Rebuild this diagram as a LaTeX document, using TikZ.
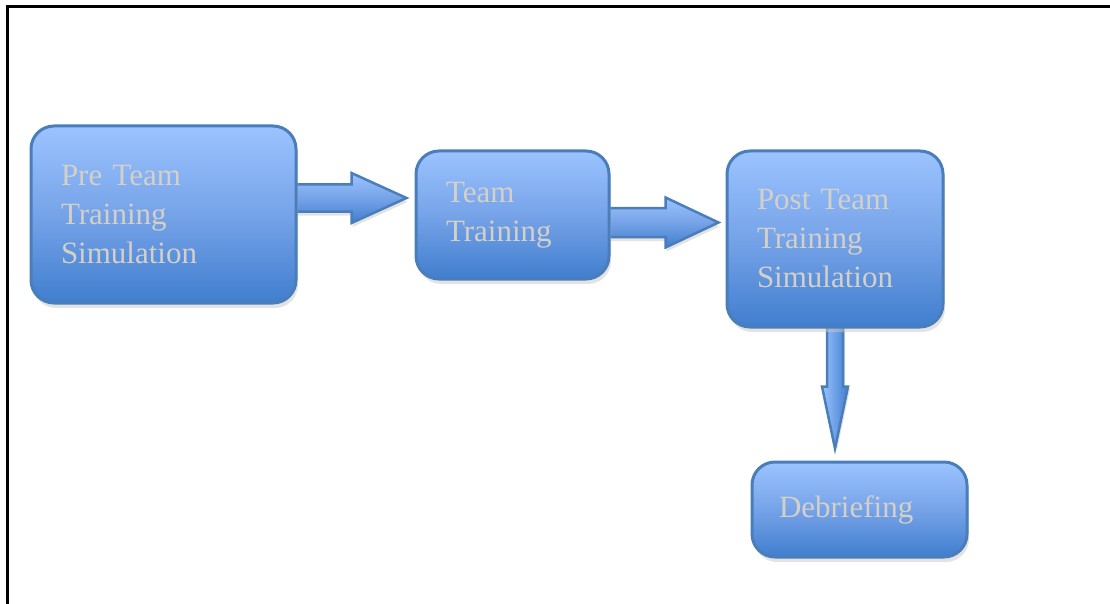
\documentclass[tikz,border=0pt]{standalone}
\usepackage{fontspec}
\setmainfont{Liberation Serif}
\usetikzlibrary{calc,shadows,backgrounds}
\definecolor{boxtop}{RGB}{155,195,255}
\definecolor{boxmid}{RGB}{118,163,232}
\definecolor{boxbot}{RGB}{64,126,206}
\definecolor{boxline}{RGB}{74,126,187}
\definecolor{labelgray}{RGB}{212,208,200}

% block arrow: start, tip, shaft half width, head half width, head length, style
\newcommand\blockarrow[6]{%
  \coordinate (neck) at ($(#2)!#5!(#1)$);
  \path[#6] ($(#1)!#3!90:(#2)$) -- ($(neck)!#3!90:(#2)$) -- ($(neck)!#4!90:(#2)$) -- (#2)
    -- ($(neck)!#4!-90:(#2)$) -- ($(neck)!#3!-90:(#2)$) -- ($(#1)!#3!-90:(#2)$) -- cycle;}

\begin{document}
\begin{tikzpicture}[x=1pt,y=-1pt,font=\fontsize{31}{39}\selectfont]
\tikzstyle{stage}=[draw=boxline,line width=3pt,rounded corners=23pt,top color=boxtop,bottom color=boxbot,middle color=boxmid,
  drop shadow={shadow xshift=2pt,shadow yshift=-5pt,fill=black!22},text=labelgray,align=left,inner xsep=30pt,minimum width=0pt]
\tikzstyle{harrow}=[draw=boxline,line width=2.5pt,top color=boxtop,bottom color=boxbot,middle color=boxmid,
  drop shadow={shadow xshift=1pt,shadow yshift=-4pt,fill=black!22}]
\tikzstyle{varrow}=[draw=boxline,line width=2.5pt,left color=boxtop,right color=boxbot,
  drop shadow={shadow xshift=2pt,shadow yshift=-2pt,fill=black!22}]
\useasboundingbox (0,0) rectangle (1110,604);
\draw[line width=3pt] (7,604) -- (7,7) -- (1110,7);
\node[stage,minimum height=177pt,text width=205pt] (pre) at (163.5,214.5) {Pre Team\\Training\\Simulation};
\node[stage,minimum height=128pt,text width=133pt] (team) at (512.5,215) {Team\\Training};
\node[stage,minimum height=176pt,text width=156pt] (post) at (835,239) {Post Team\\Training\\Simulation};
\node[stage,minimum height=95pt,text width=161pt,inner xsep=27pt] (debrief) at (859.5,509.5) {Debriefing};
\begin{scope}[on background layer]
\coordinate (a1s) at ($(pre.east)+(-4,-16.5)$); \coordinate (a1e) at ($(a1s -| team.west)+(-8,0)$);
\coordinate (a2s) at ($(team.east)+(-4,7.5)$); \coordinate (a2e) at ($(a2s -| post.west)+(-7,0)$);
\coordinate (a3s) at ($(post.south)+(0,-4)$); \coordinate (a3e) at ($(a3s |- debrief.north)+(0,-12)$);
\blockarrow{a1s}{a1e}{13.5pt}{25pt}{55pt}{harrow}
\blockarrow{a2s}{a2e}{14.5pt}{25pt}{53pt}{harrow}
\blockarrow{a3s}{a3e}{8pt}{13pt}{62pt}{varrow}
\end{scope}
\end{tikzpicture}
\end{document}
